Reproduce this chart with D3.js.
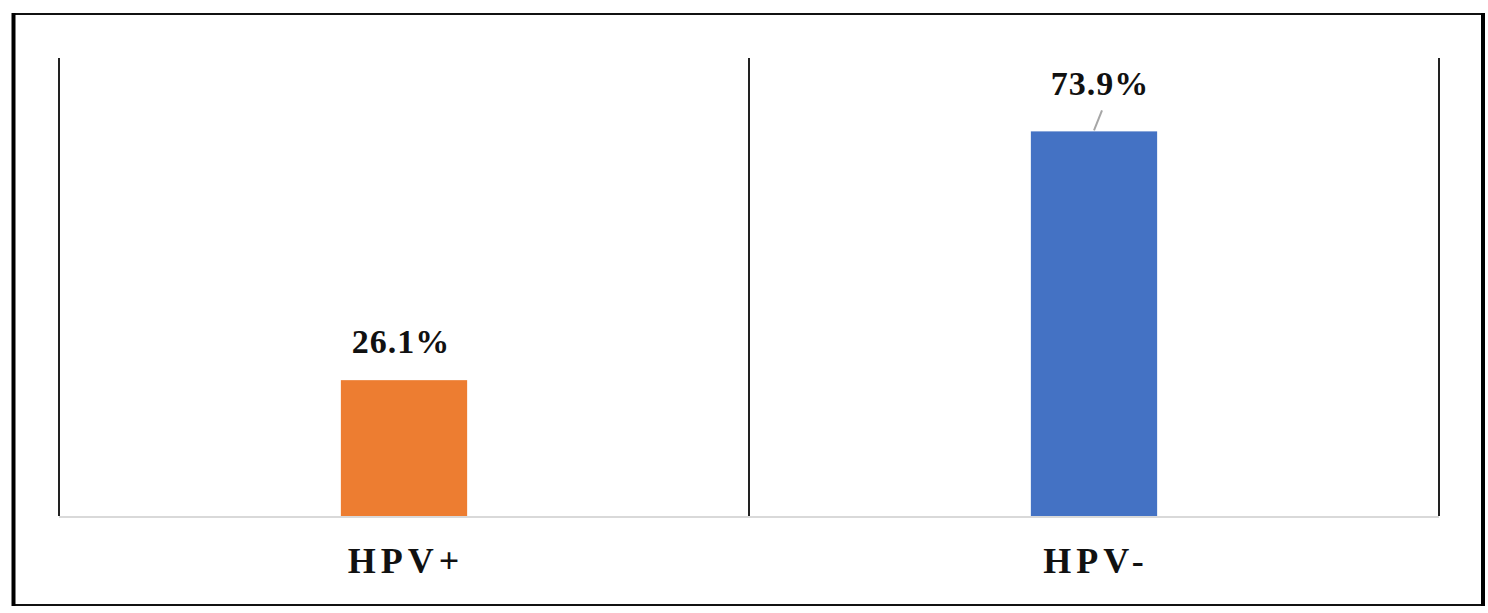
<!DOCTYPE html>
<html>
<head>
<meta charset="utf-8">
<script src="https://cdn.jsdelivr.net/npm/d3@7"></script>
<style>
  body { margin: 0; background: #fff; }
  svg { display: block; }
  text { font-family: "Liberation Serif", "Times New Roman", Times, serif; font-weight: bold; }
</style>
</head>
<body>
<script>
// data
var categories = ["HPV+", "HPV-"];
var values = [26.1, 73.9];
var valueLabels = ["26.1%", "73.9%"];
var barColors = ["#ed7d31", "#4472c4"];

(function () {

    var width = 1488, height = 613;

    // plot area
    var plotLeft = 59, plotRight = 1439, plotTop = 58, plotBottom = 516;

    var svg = d3.select("body").append("svg")
        .attr("width", width)
        .attr("height", height);

    // frame round the whole chart, heavier on the left/right
    svg.append("rect")
        .attr("x", 13).attr("y", 14)
        .attr("width", 1470).attr("height", 591)
        .style("fill", "none")
        .style("stroke", "#111")
        .style("stroke-width", 2);
    svg.append("line")
        .attr("x1", 13.5).attr("x2", 13.5).attr("y1", 13).attr("y2", 606)
        .style("stroke", "#000").style("stroke-width", 4);
    svg.append("line")
        .attr("x1", 1483).attr("x2", 1483).attr("y1", 13).attr("y2", 606)
        .style("stroke", "#000").style("stroke-width", 4);

    var x = d3.scaleBand()
        .domain(categories)
        .range([plotLeft, plotRight])
        .paddingInner(0)
        .paddingOuter(0);

    var y = d3.scaleLinear()
        .domain([0, 88])
        .range([plotBottom, plotTop]);

    // separators between categories
    var edges = categories.map(function (c) { return x(c); }).concat([plotRight]);
    svg.selectAll("line.sep")
        .data(edges)
        .enter().append("line")
        .attr("class", "sep")
        .attr("x1", function (d) { return d; })
        .attr("x2", function (d) { return d; })
        .attr("y1", plotTop).attr("y2", plotBottom)
        .style("stroke", "#222")
        .style("stroke-width", 2);

    // bars
    var bw = x.bandwidth() * 0.183;
    svg.selectAll("rect.bar")
        .data(values)
        .enter().append("rect")
        .attr("class", "bar")
        .attr("x", function (d, i) { return x(categories[i]) + x.bandwidth() / 2 - bw / 2; })
        .attr("y", function (d) { return y(d); })
        .attr("width", bw)
        .attr("height", function (d) { return y(0) - y(d); })
        .style("fill", function (d, i) { return barColors[i]; });

    // baseline
    svg.append("line")
        .attr("x1", plotLeft).attr("x2", plotRight)
        .attr("y1", plotBottom + 1).attr("y2", plotBottom + 1)
        .style("stroke", "#d9d9d9")
        .style("stroke-width", 2);

    // value labels (the second one is pulled up with a leader line)
    var labelShift = [{dx: -3, dy: 27}, {dx: 6, dy: 36}];
    svg.selectAll("text.val")
        .data(values)
        .enter().append("text")
        .attr("class", "val")
        .attr("x", function (d, i) { return x(categories[i]) + x.bandwidth() / 2 + labelShift[i].dx; })
        .attr("y", function (d, i) { return y(d) - labelShift[i].dy; })
        .attr("text-anchor", "middle")
        .attr("font-size", "34px")
        .attr("letter-spacing", "1px")
        .attr("fill", "#111")
        .text(function (d, i) { return valueLabels[i]; });

    var cx1 = x(categories[1]) + x.bandwidth() / 2;
    svg.append("line")
        .attr("x1", cx1 + 8).attr("y1", y(values[1]) - 21)
        .attr("x2", cx1).attr("y2", y(values[1]) - 1)
        .style("stroke", "#a6a6a6")
        .style("stroke-width", 2);

    // category labels
    svg.selectAll("text.cat")
        .data(categories)
        .enter().append("text")
        .attr("class", "cat")
        .attr("x", function (d) { return x(d) + x.bandwidth() / 2 + 2; })
        .attr("y", 573)
        .attr("text-anchor", "middle")
        .attr("font-size", "36px")
        .attr("letter-spacing", "5px")
        .attr("fill", "#111")
        .text(function (d) { return d; });

})();
</script>
</body>
</html>
